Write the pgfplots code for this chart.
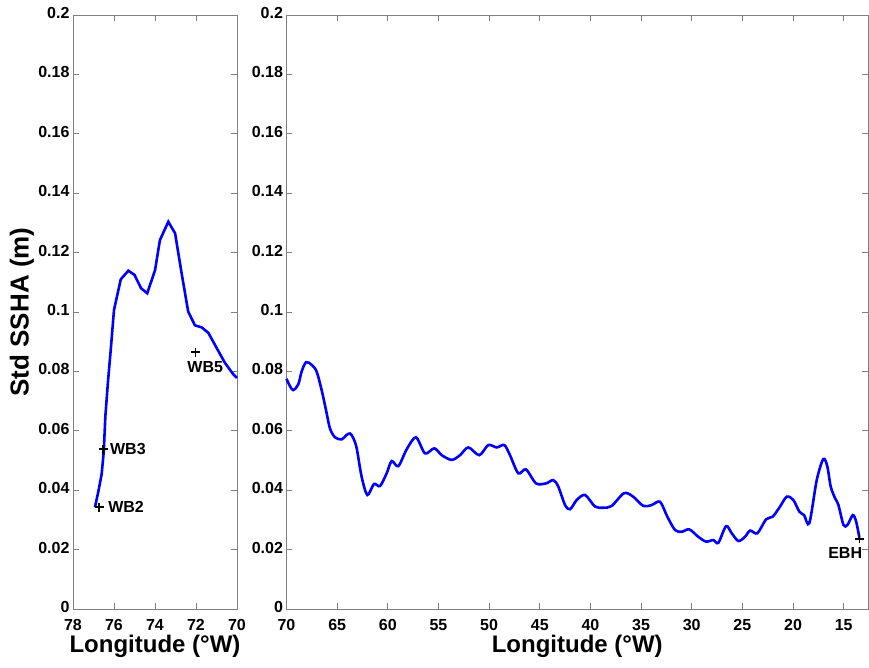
\documentclass[border=0pt]{standalone}
\usepackage{fontspec}
\setmainfont{Liberation Sans}
\usepackage{pgfplots}
\pgfplotsset{compat=1.18}
\definecolor{axgray}{gray}{0.5}
\definecolor{mblue}{rgb}{0,0,1}
\pgfplotsset{
  myax/.style={
    scale only axis,
    height=594pt,
    ymin=0, ymax=0.2,
    ytick={0,0.02,...,0.2},
    x dir=reverse,
    scaled y ticks=false,
    scaled x ticks=false,
    /pgf/number format/assume math mode=true,
    yticklabel style={/pgf/number format/fixed,/pgf/number format/precision=2,
      font=\fontsize{16}{16}\selectfont\bfseries, text=black, yshift=2pt},
    xticklabel style={font=\fontsize{16}{16}\selectfont\bfseries, text=black, yshift=-7pt},
    axis line style={axgray, line width=0.9pt},
    major tick style={axgray, line width=0.9pt},
    major tick length=6pt,
    tick align=inside,
    xlabel style={at={(axis description cs:0.5,0)}, anchor=center, yshift=-37pt,
      font=\fontsize{24}{24}\selectfont\bfseries},
    clip=false,
  }
}
\begin{document}
\begin{tikzpicture}[x=1pt,y=1pt]
\useasboundingbox (0,0) rectangle (869,668);
% Left panel
\begin{axis}[myax,
  at={(73pt,59pt)}, anchor=south west,
  width=164pt,
  xmin=70, xmax=78,
  xtick={70,72,74,76,78},
  xlabel={Longitude (°W)},
  ylabel={Std SSHA (m)},
  ylabel style={at={(axis description cs:-0.311,0.5)}, anchor=center,
      font=\fontsize{26}{26}\selectfont\bfseries},
]
\addplot[mblue, line width=2.6pt] coordinates {
(76.93,0.0342) (76.75,0.0400) (76.60,0.0455) (76.50,0.0530) (76.42,0.0650)
(76.30,0.0760) (76.15,0.0880) (76.00,0.1007) (75.67,0.1110) (75.30,0.1139)
(75.00,0.1125) (74.68,0.1080) (74.38,0.1063) (74.00,0.1140) (73.76,0.1242)
(73.35,0.1304) (73.02,0.1265) (72.70,0.1130) (72.38,0.1001) (72.05,0.0955)
(71.72,0.0948) (71.40,0.0930) (71.00,0.0880) (70.60,0.0830) (70.18,0.0790)
(70.00,0.0778)
};
\addplot[only marks, mark=+, mark size=4.5pt, line width=1.7pt, black] coordinates {
(76.73,0.0343) (76.52,0.0538) (72.02,0.0865)
};
\node[anchor=west, font=\fontsize{16}{16}\selectfont\bfseries, inner sep=0pt] at (axis cs:76.29,0.0343) {WB2};
\node[anchor=west, font=\fontsize{16}{16}\selectfont\bfseries, inner sep=0pt] at (axis cs:76.20,0.0538) {WB3};
\node[anchor=center, font=\fontsize{16}{16}\selectfont\bfseries, inner sep=0pt] at (axis cs:71.55,0.0815) {WB5};
\end{axis}
% Right panel
\begin{axis}[myax,
  at={(286.5pt,59pt)}, anchor=south west,
  width=581.5pt,
  xmin=12.6, xmax=70,
  xtick={15,20,...,70},
  xlabel={Longitude (°W)},
]
\addplot[mblue, line width=2.6pt, smooth, tension=0.5] coordinates {
(70.00,0.0775) (69.65,0.0750) (69.33,0.0737) (68.84,0.0756) (68.50,0.0800)
(68.07,0.0831) (67.51,0.0822) (67.02,0.0799) (66.53,0.0737) (66.10,0.0670)
(65.71,0.0608) (65.21,0.0578) (64.55,0.0571) (64.10,0.0585) (63.73,0.0591)
(63.40,0.0575) (63.07,0.0541) (62.58,0.0445) (62.02,0.0384) (61.36,0.0421)
(60.77,0.0414) (60.11,0.0457) (59.62,0.0498) (58.96,0.0481) (58.13,0.0538)
(57.22,0.0578) (56.33,0.0524) (55.41,0.0541) (54.68,0.0518) (53.69,0.0502)
(52.87,0.0518) (52.05,0.0544) (50.97,0.0518) (50.08,0.0552) (49.25,0.0544)
(48.50,0.0552) (47.94,0.0518) (47.12,0.0457) (46.36,0.0470) (45.37,0.0423)
(44.38,0.0423) (43.66,0.0434) (43.17,0.0412) (42.50,0.0350) (42.00,0.0336)
(41.35,0.0367) (40.53,0.0384) (39.55,0.0345) (38.73,0.0341) (37.90,0.0347)
(36.68,0.0390) (35.77,0.0378) (34.78,0.0347) (33.95,0.0350) (33.13,0.0361)
(32.41,0.0311) (31.65,0.0266) (30.99,0.0260) (30.24,0.0268) (29.35,0.0243)
(28.59,0.0227) (27.87,0.0232) (27.37,0.0223) (26.61,0.0279) (26.05,0.0255)
(25.40,0.0229) (24.74,0.0243) (24.24,0.0264) (23.52,0.0255) (22.66,0.0302)
(22.00,0.0311) (21.28,0.0345) (20.62,0.0378) (19.97,0.0367) (19.38,0.0328)
(18.91,0.0316) (18.39,0.0289) (17.66,0.0434) (17.01,0.0505) (16.61,0.0479)
(16.28,0.0412) (15.85,0.0373) (15.52,0.0350) (15.02,0.0283) (14.63,0.0283)
(14.10,0.0316) (13.77,0.0294) (13.45,0.0240)
};
\addplot[only marks, mark=+, mark size=4.5pt, line width=1.7pt, black] coordinates {
(13.45,0.0236)
};
\node[anchor=center, font=\fontsize{16}{16}\selectfont\bfseries, inner sep=0pt] at (axis cs:14.85,0.0190) {EBH};
\end{axis}
\end{tikzpicture}
\end{document}
